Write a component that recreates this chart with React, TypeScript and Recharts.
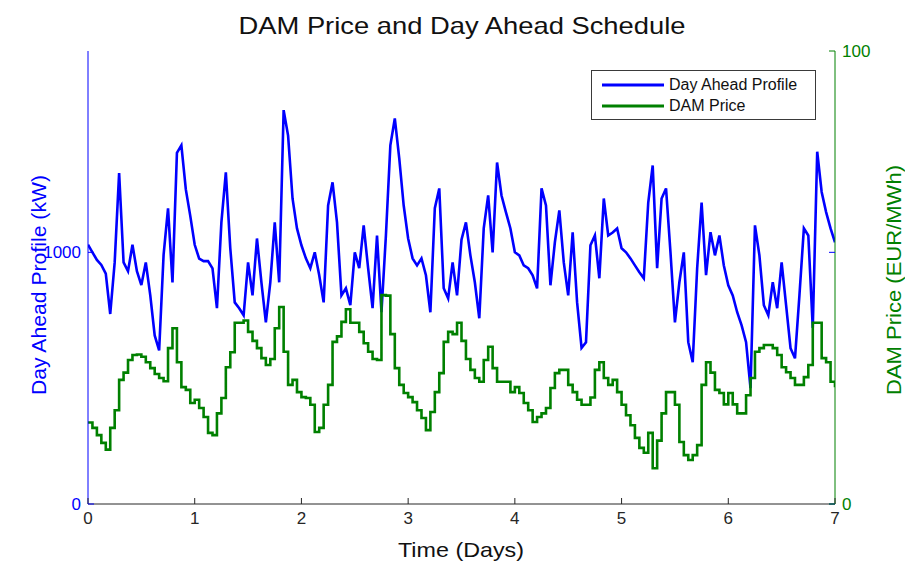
import React from 'react';
import { ComposedChart, Line, XAxis, YAxis, Legend } from 'recharts';

// hourly samples over 7 days (169 points, hour 0..168)
const profileKw = [
  1030, 1000, 970, 950, 915, 755, 960, 1315, 960, 925, 1030, 925, 870, 960, 830, 670, 610, 990, 1175, 880, 1395, 1425, 1250, 1145,
  1030, 975, 965, 965, 936, 778, 1119, 1318, 1016, 801, 778, 750, 960, 829, 1055, 881, 722, 881, 1119, 881, 1565, 1464, 1214, 1095,
  1028, 976, 937, 1000, 909, 801, 1186, 1278, 1119, 829, 857, 790, 1000, 937, 1107, 937, 778, 1067, 762, 1067, 1425, 1532, 1373, 1186,
  1055, 976, 948, 976, 909, 762, 1175, 1254, 857, 817, 960, 829, 1050, 1119, 988, 881, 738, 1095, 1226, 1000, 1357, 1226, 1159, 1095,
  1000, 988, 948, 937, 909, 857, 1254, 1186, 869, 1040, 1167, 960, 829, 1079, 801, 620, 643, 1028, 1067, 897, 1214, 1067, 1079, 1095,
  1016, 1000, 976, 948, 921, 897, 1198, 1345, 937, 1214, 1254, 1000, 722, 881, 1000, 643, 563, 937, 1198, 909, 1080, 988, 1067, 948,
  869, 829, 762, 710, 643, 460, 1107, 988, 790, 750, 881, 778, 960, 790, 619, 579, 829, 1095, 1067, 700, 1400, 1240, 1160, 1095,
  1040,
];

const damPrice = [
  18, 16.8, 15.2, 13.5, 12, 16.8, 20.7, 27.4, 29, 31.8, 32.9, 33, 32.5, 31.3, 30, 28.7, 27.8, 27.1, 34.4, 38.8, 31.3, 25.8, 25.2, 22.3,
  23, 21.2, 19.2, 15.7, 15.2, 20, 23.4, 30.2, 33.5, 40, 40, 40.5, 38, 36, 34.4, 32.2, 30.7, 32, 38.8, 43.5, 33.6, 26.3, 27.4, 24.7,
  23.6, 23.4, 21.9, 15.9, 16.8, 21.9, 26.3, 35.8, 37, 40.2, 43, 40, 40, 38, 35.5, 33.6, 32, 31.8, 46.1, 46, 37.5, 30, 26.3, 24.5,
  23.6, 22.5, 20.7, 19, 16.3, 20.3, 24.7, 28.9, 35.8, 38, 37.5, 40, 36, 32, 29.6, 27.8, 27, 31.8, 34.7, 30, 27, 27, 27, 24.7,
  25.8, 24.5, 22.3, 20.7, 18.1, 19.2, 20, 21.2, 25.6, 28.9, 29.6, 29.6, 26.3, 24.7, 23, 21.9, 21.9, 23.5, 29.6, 31.3, 27.8, 26.3, 27.4, 24.7,
  21.9, 19.6, 17.4, 14.6, 12.4, 11.3, 15.7, 7.9, 14, 20, 24.7, 24.7, 21.9, 13.7, 10.8, 9.7, 10.8, 13, 26.3, 31.3, 29, 25.2, 24.5, 22,
  24.5, 22, 20, 20, 24, 27.8, 33.6, 34.4, 35.1, 35.1, 34.4, 32.9, 30.2, 29.1, 27.8, 26.3, 26.3, 28, 30.7, 40, 40, 32.2, 31.3, 27,
  25.8,
];

const dayTicks = [0, 1, 2, 3, 4, 5, 6, 7];
const profileTicks = [0, 1000];
const priceTicks = [0, 100];
const legendOrder = ['Day Ahead Profile', 'DAM Price'];

const chartData = profileKw.map((kw, i) => ({ day: i / 24, profile: kw, price: damPrice[i] }));

const FONT = '"Liberation Sans", Arial, Helvetica, sans-serif';
const BLUE = '#0000ff';
const GREEN = '#008000';
const AXIS = '#262626';
const PLOT_W = 747;

const BottomTick = ({ x, y, payload }: any) => (
  <g>
    <line x1={x} x2={x} y1={y} y2={y - 6} stroke={AXIS} />
    <text x={x} y={y + 20} textAnchor="middle" fontSize={17} fontFamily={FONT} fill={AXIS}>
      {payload.value}
    </text>
  </g>
);

const TopTick = ({ x, y }: any) => <line x1={x} x2={x} y1={y} y2={y + 6} stroke={AXIS} />;

const LeftTick = ({ x, y, payload }: any) => (
  <g>
    <line x1={x} x2={x + 6} y1={y} y2={y} stroke={BLUE} />
    <line x1={x + PLOT_W - 6} x2={x + PLOT_W} y1={y} y2={y} stroke={BLUE} />
    <text x={x - 7} y={y + 6} textAnchor="end" fontSize={17} fontFamily={FONT} fill={BLUE}>
      {payload.value}
    </text>
  </g>
);

const RightTick = ({ x, y, payload }: any) => (
  <g>
    <line x1={x - 6} x2={x} y1={y} y2={y} stroke={GREEN} />
    <text x={x + 7} y={y + 6} textAnchor="start" fontSize={17} fontFamily={FONT} fill={GREEN}>
      {payload.value}
    </text>
  </g>
);

const LegendBox = ({ payload }: any) => {
  const entries = [...(payload || [])].sort(
    (a: any, b: any) => legendOrder.indexOf(a.value) - legendOrder.indexOf(b.value)
  );
  return (
    <div
      style={{
        border: '1px solid #3a3a3a',
        background: '#fff',
        width: 225,
        height: 50,
        boxSizing: 'border-box',
        padding: '3px 0 0 10px',
        fontFamily: FONT,
        fontSize: 16,
        color: '#111',
      }}
    >
      {entries.map((entry: any) => (
        <div key={entry.value} style={{ display: 'flex', alignItems: 'center', height: 21 }}>
          <svg width={64} height={6} style={{ marginRight: 3 }}>
            <line x1={0} x2={62} y1={3} y2={3} stroke={entry.color} strokeWidth={3} />
          </svg>
          <span>{entry.value}</span>
        </div>
      ))}
    </div>
  );
};

export default function App() {
  return (
    <div style={{ position: 'absolute', left: 0, top: 0, width: 905, height: 563, background: '#fff' }}>
      <ComposedChart
        width={905}
        height={563}
        data={chartData}
        margin={{ top: 51, right: 10, bottom: 19, left: 28 }}
      >
        <XAxis
          dataKey="day"
          type="number"
          domain={[0, 7]}
          ticks={dayTicks}
          height={40}
          tickSize={0}
          tickMargin={0}
          tick={<BottomTick />}
          stroke={AXIS}
          allowDataOverflow
        />
        <XAxis
          xAxisId="top"
          dataKey="day"
          type="number"
          orientation="top"
          domain={[0, 7]}
          ticks={dayTicks}
          height={0}
          tickSize={0}
          tickMargin={0}
          tick={<TopTick />}
          stroke="#6e6e6e"
          allowDataOverflow
        />
        <YAxis
          yAxisId="left"
          domain={[0, 1800]}
          ticks={profileTicks}
          width={60}
          tickSize={0}
          tickMargin={0}
          tick={<LeftTick />}
          stroke={BLUE}
          allowDataOverflow
        />
        <YAxis
          yAxisId="right"
          orientation="right"
          domain={[0, 100]}
          ticks={priceTicks}
          width={60}
          tickSize={0}
          tickMargin={0}
          tick={<RightTick />}
          stroke={GREEN}
          allowDataOverflow
        />
        <Legend
          content={<LegendBox />}
          layout="horizontal"
          verticalAlign="middle"
          align="center"
          wrapperStyle={{ position: 'absolute', left: 591, top: 70, width: 225, height: 50 }}
        />
        <Line
          yAxisId="left"
          type="linear"
          dataKey="profile"
          name="Day Ahead Profile"
          stroke={BLUE}
          strokeWidth={2.6}
          dot={false}
          isAnimationActive={false}
        />
        <Line
          yAxisId="right"
          type="stepAfter"
          dataKey="price"
          name="DAM Price"
          stroke={GREEN}
          strokeWidth={2.6}
          dot={false}
          isAnimationActive={false}
        />
      </ComposedChart>
      <svg
        width={905}
        height={563}
        style={{ position: 'absolute', left: 0, top: 0, pointerEvents: 'none' }}
        fontFamily={FONT}
      >
        <text x={462} y={34} textAnchor="middle" fontSize={24} textLength={447} lengthAdjust="spacingAndGlyphs" fill="#111">
          DAM Price and Day Ahead Schedule
        </text>
        <text x={461} y={557} textAnchor="middle" fontSize={21} textLength={126} lengthAdjust="spacingAndGlyphs" fill="#111">
          Time (Days)
        </text>
        <text
          x={0}
          y={0}
          transform="translate(46 285) rotate(-90)"
          textAnchor="middle"
          fontSize={21}
          textLength={220}
          lengthAdjust="spacingAndGlyphs"
          fill={BLUE}
        >
          Day Ahead Profile (kW)
        </text>
        <text
          x={0}
          y={0}
          transform="translate(901 280) rotate(-90)"
          textAnchor="middle"
          fontSize={21}
          textLength={230}
          lengthAdjust="spacingAndGlyphs"
          fill={GREEN}
        >
          DAM Price (EUR/MWh)
        </text>
      </svg>
    </div>
  );
}
